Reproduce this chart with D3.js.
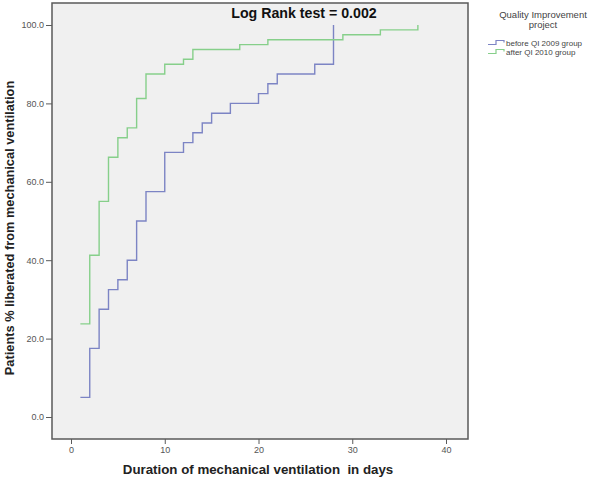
<!DOCTYPE html>
<html>
<head>
<meta charset="utf-8">
<script src="https://cdn.jsdelivr.net/npm/d3@7"></script>
<style>
  body { margin: 0; background: #fff; }
  svg { font-family: "Liberation Sans", Arial, sans-serif; }
</style>
</head>
<body>
<div id="chart"></div>
<script>
// days and cumulative % liberated
const beforeDays = [1, 2, 3, 4, 5, 6, 7, 8, 10, 12, 13, 14, 15, 17, 20, 21, 22, 26, 28];
const beforePct = [5, 17.5, 27.5, 32.5, 35, 40, 50, 57.5, 67.5, 70, 72.5, 75, 77.5, 80, 82.5, 85, 87.5, 90, 100];
const afterDays = [1, 2, 3, 4, 5, 6, 7, 8, 10, 12, 13, 18, 21, 29, 33, 37];
const afterPct = [23.75, 41.25, 55, 66.25, 71.25, 73.75, 81.25, 87.5, 90, 91.25, 93.75, 95, 96.25, 97.5, 98.75, 100];
const xTicks = [0, 10, 20, 30, 40];
const yTicks = [0, 20, 40, 60, 80, 100];
const seriesNames = ["before QI 2009 group", "after QI 2010 group"];
const seriesColors = ["#7c84c4", "#86cf8a"];

const W = 600, H = 478;
const frame = { left: 52, top: 3, right: 468, bottom: 439 };

const svg = d3.select("#chart").append("svg")
  .attr("width", W)
  .attr("height", H);

const x = d3.scaleLinear().domain([0, 40]).range([71, 446]);
const y = d3.scaleLinear().domain([0, 100]).range([417, 25]);

// plot area
svg.append("rect")
  .attr("x", frame.left)
  .attr("y", frame.top)
  .attr("width", frame.right - frame.left)
  .attr("height", frame.bottom - frame.top)
  .attr("fill", "#f0f0f0")
  .attr("stroke", "#5a5a5a")
  .attr("stroke-width", 1.5);

// y axis
const yAxis = svg.append("g")
  .attr("transform", `translate(${frame.left},0)`)
  .call(d3.axisLeft(y).tickValues(yTicks).tickFormat(d3.format(".1f")).tickSize(6).tickPadding(2));
yAxis.select(".domain").remove();
yAxis.selectAll("line").attr("stroke", "#5a5a5a");
yAxis.selectAll("text").attr("fill", "#555").style("font-size", "9px");

// x axis
const xAxis = svg.append("g")
  .attr("transform", `translate(0,${frame.bottom})`)
  .call(d3.axisBottom(x).tickValues(xTicks).tickSize(5).tickPadding(3));
xAxis.select(".domain").remove();
xAxis.selectAll("line").attr("stroke", "#5a5a5a");
xAxis.selectAll("text").attr("fill", "#555").style("font-size", "9px");

// axis titles
svg.append("text")
  .attr("x", 258)
  .attr("y", 474)
  .attr("text-anchor", "middle")
  .attr("font-weight", "bold")
  .attr("font-size", 13.3)
  .attr("fill", "#222")
  .style("white-space", "pre")
  .text("Duration of mechanical ventilation  in days");

svg.append("text")
  .attr("transform", "translate(14,228) rotate(-90)")
  .attr("text-anchor", "middle")
  .attr("font-weight", "bold")
  .attr("font-size", 12.8)
  .attr("fill", "#222")
  .text("Patients % liberated from mechanical ventilation");

// step curves
const series = [
  beforeDays.map((d, i) => [d, beforePct[i]]),
  afterDays.map((d, i) => [d, afterPct[i]])
];

const line = d3.line()
  .x(d => x(d[0]))
  .y(d => y(d[1]))
  .curve(d3.curveStepAfter);

svg.selectAll(".km")
  .data(series)
  .enter().append("path")
  .attr("class", "km")
  .attr("d", line)
  .attr("fill", "none")
  .attr("stroke", (d, i) => seriesColors[i])
  .attr("stroke-width", 1.4);

// annotation
svg.append("text")
  .attr("x", 304)
  .attr("y", 18)
  .attr("text-anchor", "middle")
  .attr("font-weight", "bold")
  .attr("font-size", 14.2)
  .attr("fill", "#111")
  .text("Log Rank test = 0.002");

// legend
const legend = svg.append("g");
legend.append("text")
  .attr("x", 543).attr("y", 18)
  .attr("text-anchor", "middle")
  .attr("font-size", 9.5)
  .attr("fill", "#444")
  .text("Quality Improvement");
legend.append("text")
  .attr("x", 543).attr("y", 28)
  .attr("text-anchor", "middle")
  .attr("font-size", 9.5)
  .attr("fill", "#444")
  .text("project");

const item = legend.selectAll(".item")
  .data(seriesNames)
  .enter().append("g")
  .attr("class", "item")
  .attr("transform", (d, i) => `translate(488,${43 + i * 9})`);

item.append("path")
  .attr("d", "M0,1.5H8V-2.5H16V-0.5")
  .attr("fill", "none")
  .attr("stroke", (d, i) => seriesColors[i])
  .attr("stroke-width", 1.2);

item.append("text")
  .attr("x", 18)
  .attr("y", 2.5)
  .attr("font-size", 8)
  .attr("fill", "#444")
  .text(d => d);
</script>
</body>
</html>
